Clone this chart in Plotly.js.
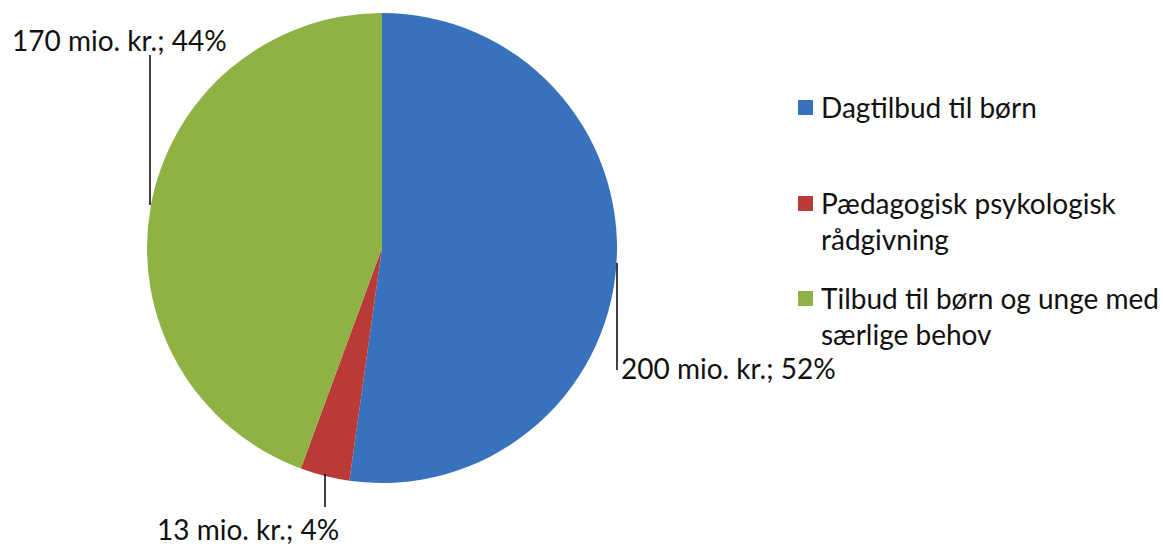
<!DOCTYPE html>
<html><head><meta charset="utf-8">
<script src="https://cdn.plot.ly/plotly-3.0.1.min.js"></script>
<style>html,body{margin:0;padding:0;background:#fff}#c{width:1163px;height:546px}</style>
</head><body><div id="c"></div>
<script>
const categories = ["Dagtilbud til børn", "Pædagogisk psykologisk rådgivning", "Tilbud til børn og unge med særlige behov"];
const legendLabels = ["Dagtilbud til børn", "Pædagogisk psykologisk<br>rådgivning", "Tilbud til børn og unge med<br>særlige behov"];
const values = [200, 13, 170];
const percentLabels = ["52%", "4%", "44%"];
const colors = ["#3872bd", "#b93a37", "#8fb245"];

const W = 1163, H = 546;
const px = x => x / W, py = y => 1 - y / H;
const FONT = "Lato, 'Open Sans', sans-serif";

const data = [{
  type: "pie",
  values: values,
  labels: categories,
  sort: false,
  direction: "clockwise",
  rotation: 0,
  textinfo: "none",
  hoverinfo: "label+value+percent",
  marker: {colors: colors, line: {width: 0}},
  domain: {x: [px(147), px(617)], y: [py(483), py(13)]},
  showlegend: false
}];

const labelText = values.map((v, i) => v + " mio. kr.; " + percentLabels[i]);
const labelPos = [
  {x: 619, y: 368},
  {x: 155, y: 529},
  {x: 10, y: 40}
];
const annotations = labelText.map((t, i) => ({
  text: t, xref: "paper", yref: "paper",
  x: px(labelPos[i].x), y: py(labelPos[i].y),
  xanchor: "left", yanchor: "middle", showarrow: false,
  font: {family: FONT, size: 28, color: "#111"}
}));

const legY = [107, 221, 316];
legendLabels.forEach((t, i) => {
  annotations.push({
    text: t, xref: "paper", yref: "paper", x: px(819), y: py(legY[i]),
    xanchor: "left", yanchor: "middle", align: "left", showarrow: false,
    font: {family: FONT, size: 28, color: "#111"}
  });
});
const legSq = [107, 203, 298];
const shapes = legSq.map((y, i) => ({
  type: "rect", xref: "paper", yref: "paper",
  x0: px(798), x1: px(813), y0: py(y + 8), y1: py(y - 7),
  fillcolor: colors[i], line: {width: 0}
}));
const leaders = [[617, 263, 617, 370], [325, 474, 325, 507], [150, 205, 150, 55]];
leaders.forEach(l => shapes.push({
  type: "line", xref: "paper", yref: "paper",
  x0: px(l[0]), y0: py(l[1]), x1: px(l[2]), y1: py(l[3]),
  line: {color: "#000", width: 1.5}
}));

Plotly.newPlot("c", data, {
  width: W, height: H,
  margin: {l: 0, r: 0, t: 0, b: 0},
  paper_bgcolor: "#fff",
  showlegend: false,
  annotations: annotations,
  shapes: shapes
}, {displayModeBar: false, staticPlot: true});
</script></body></html>
